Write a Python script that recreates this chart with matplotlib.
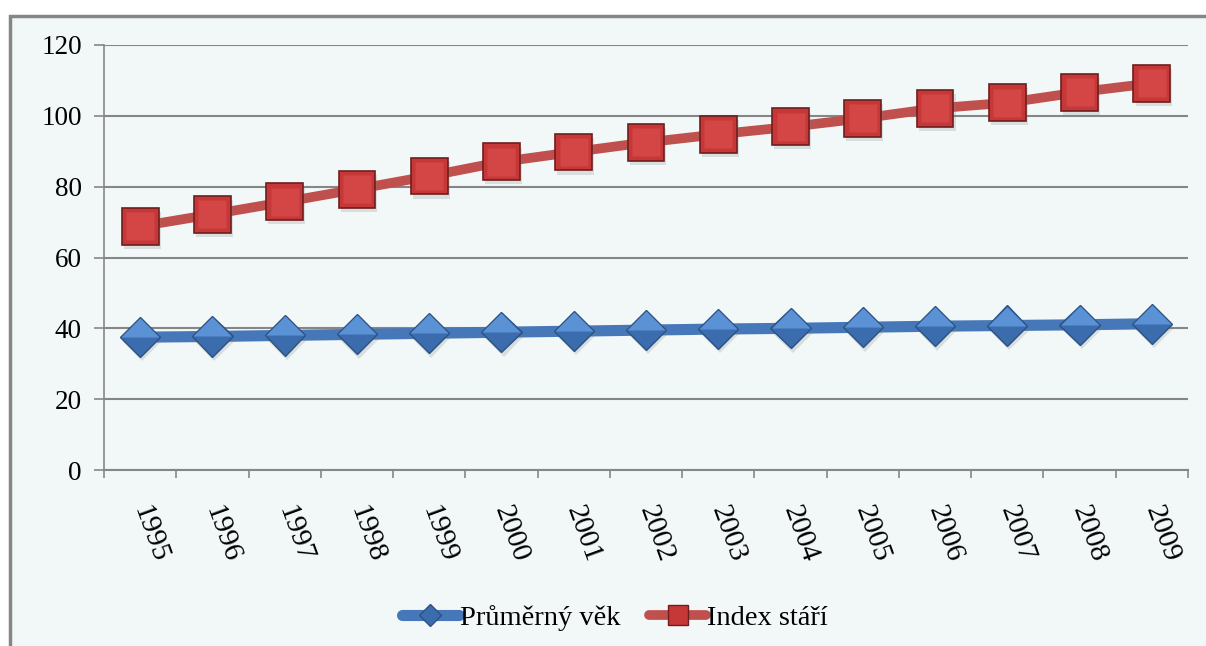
import matplotlib
matplotlib.use('Agg')
import matplotlib.pyplot as plt
import matplotlib.patheffects as pe
from matplotlib.lines import Line2D
from matplotlib.patches import Rectangle
import numpy as np

plt.rcParams['font.family'] = ['Liberation Serif', 'DejaVu Serif']

# --- data ---
years = ['1995', '1996', '1997', '1998', '1999', '2000', '2001', '2002',
         '2003', '2004', '2005', '2006', '2007', '2008', '2009']
prumerny_vek = [37.5, 37.7, 38.0, 38.3, 38.6, 38.9, 39.2, 39.5,
                39.8, 40.0, 40.3, 40.6, 40.8, 41.0, 41.3]
index_stari = [68.8, 72.2, 75.7, 79.3, 83.0, 87.0, 89.8, 92.5,
               94.8, 96.9, 99.3, 102.1, 103.7, 106.7, 109.2]
y_ticks = [0, 20, 40, 60, 80, 100, 120]

BG = '#f2f8f8'
GRID = '#868686'
BLUE = '#4677b8'
RED = '#c0504d'
FS = 19.5

fig = plt.figure(figsize=(12.06, 6.46), dpi=100)
fig.patch.set_facecolor('white')
# chart area frame (left/top border only visible, runs off the image)
fig.patches.append(Rectangle((10 / 1206, -0.05), 1.1, 1 - 16 / 646 + 0.05,
                             transform=fig.transFigure, facecolor=BG,
                             edgecolor=GRID, linewidth=2.5, zorder=-5))

ax = fig.add_axes([104 / 1206, 1 - 470 / 646, (1188 - 104) / 1206, (470 - 45) / 646])
ax.set_facecolor(BG)
x = np.arange(len(years))

shadow = [pe.SimplePatchShadow(offset=(1.5, -3), shadow_rgbFace='#808080', alpha=0.22),
          pe.Normal()]

# lines
ax.plot(x, prumerny_vek, color=BLUE, lw=8, solid_capstyle='round', zorder=3)
ax.plot(x, index_stari, color=RED, lw=7, solid_capstyle='round', zorder=3)

# markers with a bit of bevel
top_half = [(-1, 0), (0, 1), (1, 0), (-1, 0)]
ax.plot(x, prumerny_vek, ls='none', marker='D', ms=20.5, mfc='#3a6cae',
        mec='#2c5282', mew=1, zorder=4, path_effects=shadow)
ax.plot(x, prumerny_vek, ls='none', marker=top_half, ms=27.5, mfc='#5a92d5',
        mec='none', zorder=5)
ax.plot(x, index_stari, ls='none', marker='s', ms=26.5, mfc='#c63737',
        mec='#6e1e1e', mew=1.2, zorder=4, path_effects=shadow)
ax.plot(x, index_stari, ls='none', marker='s', ms=20.5, mfc='#d44545',
        mec='none', zorder=5)

ax.set_xlim(-0.5, len(years) - 0.5)
ax.set_ylim(0, 120)
ax.set_yticks(y_ticks)
ax.set_yticklabels([str(v) for v in y_ticks], fontsize=FS)
ax.tick_params(axis='y', length=7, width=1.2, color=GRID, pad=9, direction='out')

ax.set_xticks(x)
ax.set_xticklabels(years, fontsize=21, rotation=-70, rotation_mode='anchor',
                   ha='left', va='center')
ax.tick_params(axis='x', which='major', length=0, pad=26)
ax.set_xticks(np.arange(-0.5, len(years), 1), minor=True)
ax.tick_params(axis='x', which='minor', length=6, width=1.2, color=GRID, direction='out')

ax.grid(axis='y', color=GRID, lw=1.5, zorder=1)
ax.set_axisbelow(True)
for s in ['top', 'right']:
    ax.spines[s].set_visible(False)
ax.spines['left'].set_color(GRID)
ax.spines['left'].set_linewidth(1.2)
ax.spines['bottom'].set_color(GRID)
ax.spines['bottom'].set_linewidth(1.5)

handles = [
    Line2D([], [], color=BLUE, lw=8, marker='D', ms=11.5, mfc='#3a6cae', mec='#2c5282',
           solid_capstyle='round'),
    Line2D([], [], color=RED, lw=7, marker='s', ms=15, mfc='#c63737', mec='#6e1e1e',
           solid_capstyle='round'),
]
fig.legend(handles, ['Průměrný věk', 'Index stáří'], loc='center',
           bbox_to_anchor=(615 / 1206, 1 - 618 / 646), ncol=2, frameon=False,
           fontsize=20.5, handlelength=2.0, handletextpad=0.05, columnspacing=1.0)

fig.savefig('out.png', dpi=100, facecolor=fig.get_facecolor())
